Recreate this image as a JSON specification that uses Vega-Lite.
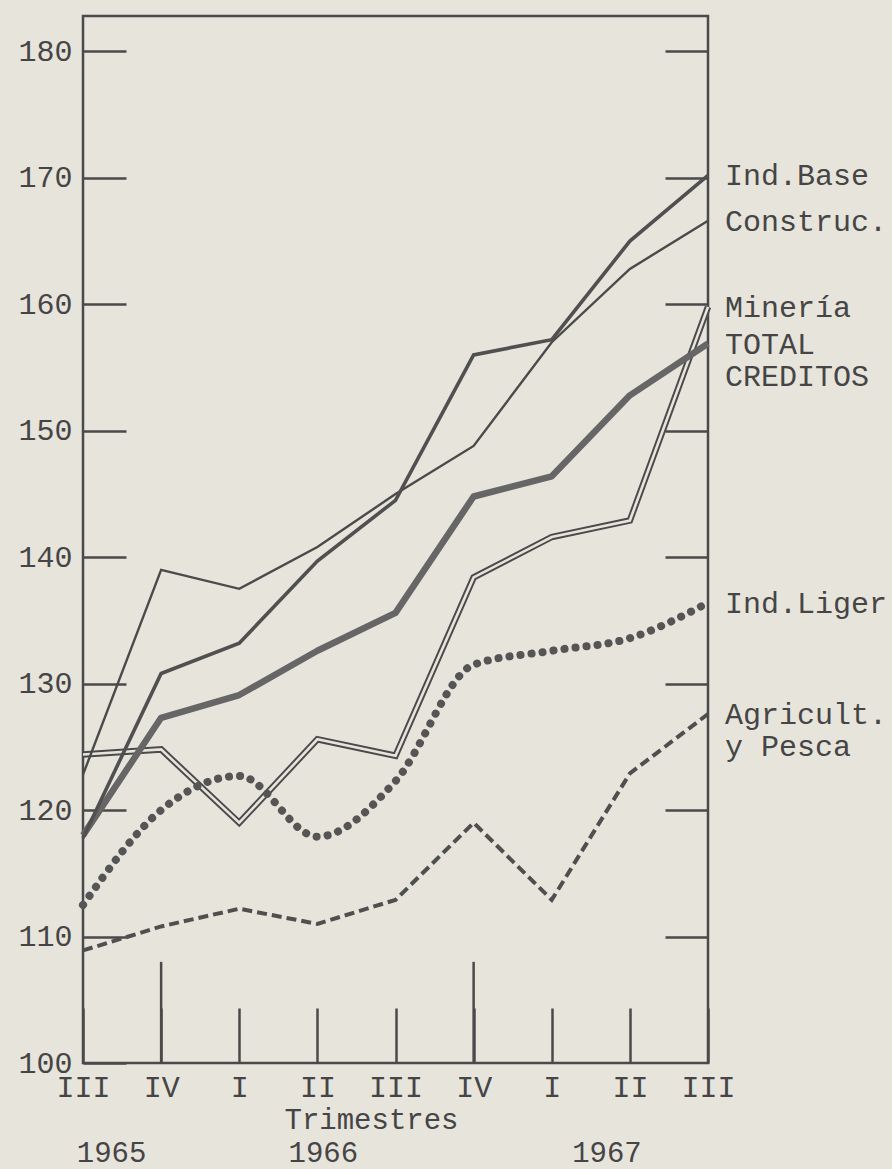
{
  "$schema": "https://vega.github.io/schema/vega-lite/v6.json",
  "width": 625,
  "height": 1047,
  "autosize": {"type": "none"},
  "padding": {"left": 83, "top": 16, "right": 184, "bottom": 106},
  "background": "#e7e4dc",
  "config": {
    "view": {"stroke": "#4a4a4a", "strokeWidth": 2.5},
    "axis": {
      "grid": false,
      "domain": false,
      "labelFont": "Liberation Mono",
      "labelFontSize": 30,
      "labelColor": "#454545",
      "tickColor": "#4a4a4a",
      "tickWidth": 2.5,
      "titleFont": "Liberation Mono",
      "titleFontSize": 29,
      "titleFontWeight": "normal",
      "titleColor": "#454545",
      "labelFlush": false,
      "labelOverlap": false
    },
    "text": {"font": "Liberation Mono"}
  },
  "datasets": {
    "lines": [
      {"series": "Ind.Base", "q": 0, "value": 117.8},
      {"series": "Ind.Base", "q": 1, "value": 130.8},
      {"series": "Ind.Base", "q": 2, "value": 133.2},
      {"series": "Ind.Base", "q": 3, "value": 139.7},
      {"series": "Ind.Base", "q": 4, "value": 144.5},
      {"series": "Ind.Base", "q": 5, "value": 156.0},
      {"series": "Ind.Base", "q": 6, "value": 157.2},
      {"series": "Ind.Base", "q": 7, "value": 165.0},
      {"series": "Ind.Base", "q": 8, "value": 170.2},
      {"series": "Construc.", "q": 0, "value": 122.8},
      {"series": "Construc.", "q": 1, "value": 139.0},
      {"series": "Construc.", "q": 2, "value": 137.5},
      {"series": "Construc.", "q": 3, "value": 140.8},
      {"series": "Construc.", "q": 4, "value": 145.0},
      {"series": "Construc.", "q": 5, "value": 148.8},
      {"series": "Construc.", "q": 6, "value": 157.0},
      {"series": "Construc.", "q": 7, "value": 162.8},
      {"series": "Construc.", "q": 8, "value": 166.6},
      {"series": "Minería", "q": 0, "value": 124.4},
      {"series": "Minería", "q": 1, "value": 124.8},
      {"series": "Minería", "q": 2, "value": 119.0},
      {"series": "Minería", "q": 3, "value": 125.6},
      {"series": "Minería", "q": 4, "value": 124.3},
      {"series": "Minería", "q": 5, "value": 138.4},
      {"series": "Minería", "q": 6, "value": 141.6},
      {"series": "Minería", "q": 7, "value": 142.9},
      {"series": "Minería", "q": 8, "value": 159.8},
      {"series": "TOTAL CREDITOS", "q": 0, "value": 118.0},
      {"series": "TOTAL CREDITOS", "q": 1, "value": 127.3},
      {"series": "TOTAL CREDITOS", "q": 2, "value": 129.1},
      {"series": "TOTAL CREDITOS", "q": 3, "value": 132.6},
      {"series": "TOTAL CREDITOS", "q": 4, "value": 135.6},
      {"series": "TOTAL CREDITOS", "q": 5, "value": 144.8},
      {"series": "TOTAL CREDITOS", "q": 6, "value": 146.4},
      {"series": "TOTAL CREDITOS", "q": 7, "value": 152.8},
      {"series": "TOTAL CREDITOS", "q": 8, "value": 156.9},
      {"series": "Ind.Liger", "q": 0, "value": 112.5},
      {"series": "Ind.Liger", "q": 1, "value": 120.0},
      {"series": "Ind.Liger", "q": 2, "value": 122.7},
      {"series": "Ind.Liger", "q": 3, "value": 117.9},
      {"series": "Ind.Liger", "q": 4, "value": 122.3},
      {"series": "Ind.Liger", "q": 5, "value": 131.5},
      {"series": "Ind.Liger", "q": 6, "value": 132.6},
      {"series": "Ind.Liger", "q": 7, "value": 133.6},
      {"series": "Ind.Liger", "q": 8, "value": 136.4},
      {"series": "Agricult. y Pesca", "q": 0, "value": 108.9},
      {"series": "Agricult. y Pesca", "q": 1, "value": 110.8},
      {"series": "Agricult. y Pesca", "q": 2, "value": 112.2},
      {"series": "Agricult. y Pesca", "q": 3, "value": 111.0},
      {"series": "Agricult. y Pesca", "q": 4, "value": 112.9},
      {"series": "Agricult. y Pesca", "q": 5, "value": 119.0},
      {"series": "Agricult. y Pesca", "q": 6, "value": 112.9},
      {"series": "Agricult. y Pesca", "q": 7, "value": 122.9},
      {"series": "Agricult. y Pesca", "q": 8, "value": 127.6}
    ],
    "labels": [
      {"series": "Ind.Base", "label": "Ind.Base"},
      {"series": "Construc.", "label": "Construc."},
      {"series": "Minería", "label": "Minería"},
      {"series": "TOTAL CREDITOS", "label": "TOTAL\nCREDITOS"},
      {"series": "Ind.Liger", "label": "Ind.Liger"},
      {"series": "Agricult. y Pesca", "label": "Agricult.\ny Pesca"}
    ],
    "yearmarks": [
      {"q": 1, "year": "1965"},
      {"q": 5, "year": "1966"}
    ]
  },
  "resolve": {"axis": {"x": "independent", "y": "independent"}},
  "layer": [
    {
      "data": {"name": "lines"},
      "transform": [{"filter": "datum.series === 'Minería'"}],
      "mark": {"type": "line", "color": "#4a4a4a", "strokeWidth": 6.5, "strokeJoin": "miter"},
      "encoding": {
        "x": {
          "field": "q", "type": "quantitative",
          "scale": {"domain": [0, 8], "nice": false, "zero": false},
          "axis": {
            "orient": "bottom",
            "values": [0, 1, 2, 3, 4, 5, 6, 7, 8],
            "labelExpr": "['III','IV','I','II','III','IV','I','II','III'][datum.value]",
            "tickSize": -55,
            "labelPadding": 64,
            "title": "Trimestres",
            "titleX": 288,
            "titleY": 56,
            "titleBaseline": "middle",
            "titleAlign": "center"
          }
        },
        "y": {
          "field": "value", "type": "quantitative",
          "scale": {"domain": [100, 182.8], "nice": false, "zero": false},
          "axis": {
            "orient": "left",
            "values": [100, 110, 120, 130, 140, 150, 160, 170, 180],
            "tickSize": -43,
            "labelPadding": 54,
            "title": null
          }
        }
      }
    },
    {
      "data": {"name": "lines"},
      "transform": [{"filter": "datum.series === 'Minería'"}],
      "mark": {"type": "line", "color": "#e7e4dc", "strokeWidth": 2.6, "strokeJoin": "miter"},
      "encoding": {
        "x": {"field": "q", "type": "quantitative", "scale": {"domain": [0, 8], "nice": false, "zero": false}, "axis": null},
        "y": {
          "field": "value", "type": "quantitative",
          "scale": {"domain": [100, 182.8], "nice": false, "zero": false},
          "axis": {
            "orient": "right",
            "values": [110, 120, 130, 140, 150, 160, 170, 180],
            "tickSize": -43,
            "labels": false,
            "title": null
          }
        }
      }
    },
    {
      "data": {"name": "lines"},
      "transform": [{"filter": "datum.series === 'Agricult. y Pesca'"}],
      "mark": {"type": "line", "color": "#4f4f4f", "strokeWidth": 4, "strokeDash": [10, 5]},
      "encoding": {
        "x": {"field": "q", "type": "quantitative", "scale": {"domain": [0, 8], "nice": false, "zero": false}, "axis": null},
        "y": {"field": "value", "type": "quantitative", "scale": {"domain": [100, 182.8], "nice": false, "zero": false}, "axis": null}
      }
    },
    {
      "data": {"name": "lines"},
      "transform": [{"filter": "datum.series === 'Ind.Liger'"}],
      "mark": {"type": "line", "color": "#555555", "strokeWidth": 8, "strokeCap": "round", "strokeDash": [0.1, 11], "interpolate": "monotone"},
      "encoding": {
        "x": {"field": "q", "type": "quantitative", "scale": {"domain": [0, 8], "nice": false, "zero": false}, "axis": null},
        "y": {"field": "value", "type": "quantitative", "scale": {"domain": [100, 182.8], "nice": false, "zero": false}, "axis": null}
      }
    },
    {
      "data": {"name": "lines"},
      "transform": [{"filter": "datum.series === 'TOTAL CREDITOS'"}],
      "mark": {"type": "line", "color": "#666666", "strokeWidth": 6.5, "strokeJoin": "round"},
      "encoding": {
        "x": {"field": "q", "type": "quantitative", "scale": {"domain": [0, 8], "nice": false, "zero": false}, "axis": null},
        "y": {"field": "value", "type": "quantitative", "scale": {"domain": [100, 182.8], "nice": false, "zero": false}, "axis": null}
      }
    },
    {
      "data": {"name": "lines"},
      "transform": [{"filter": "datum.series === 'Construc.'"}],
      "mark": {"type": "line", "color": "#4a4a4a", "strokeWidth": 2.4},
      "encoding": {
        "x": {"field": "q", "type": "quantitative", "scale": {"domain": [0, 8], "nice": false, "zero": false}, "axis": null},
        "y": {"field": "value", "type": "quantitative", "scale": {"domain": [100, 182.8], "nice": false, "zero": false}, "axis": null}
      }
    },
    {
      "data": {"name": "lines"},
      "transform": [{"filter": "datum.series === 'Ind.Base'"}],
      "mark": {"type": "line", "color": "#505050", "strokeWidth": 3.6},
      "encoding": {
        "x": {"field": "q", "type": "quantitative", "scale": {"domain": [0, 8], "nice": false, "zero": false}, "axis": null},
        "y": {"field": "value", "type": "quantitative", "scale": {"domain": [100, 182.8], "nice": false, "zero": false}, "axis": null}
      }
    },
    {
      "data": {"name": "yearmarks"},
      "mark": {"type": "rule", "color": "#4a4a4a", "strokeWidth": 2.5},
      "encoding": {
        "x": {
          "field": "q", "type": "quantitative",
          "scale": {"domain": [0, 8], "nice": false, "zero": false},
          "axis": {
            "orient": "bottom",
            "values": [0.36, 3.07, 6.7],
            "labelExpr": "datum.value < 1 ? '1965' : datum.value < 5 ? '1966' : '1967'",
            "ticks": false,
            "labelFontSize": 29,
            "labelBaseline": "alphabetic",
            "labelPadding": 98,
            "title": null
          }
        },
        "y": {"datum": 108, "type": "quantitative", "scale": {"domain": [100, 182.8], "nice": false, "zero": false}, "axis": null},
        "y2": {"datum": 100}
      }
    },
    {
      "data": {"name": "lines"},
      "transform": [
        {"filter": "datum.q === 8"},
        {"lookup": "series", "from": {"data": {"name": "labels"}, "key": "series", "fields": ["label"]}}
      ],
      "mark": {"type": "text", "align": "left", "baseline": "alphabetic", "dx": 17, "dy": 10, "fontSize": 30, "lineHeight": 32, "lineBreak": "\n", "color": "#454545", "font": "Liberation Mono"},
      "encoding": {
        "x": {"field": "q", "type": "quantitative", "scale": {"domain": [0, 8], "nice": false, "zero": false}, "axis": null},
        "y": {"field": "value", "type": "quantitative", "scale": {"domain": [100, 182.8], "nice": false, "zero": false}, "axis": null},
        "text": {"field": "label", "type": "nominal"}
      }
    }
  ]
}
